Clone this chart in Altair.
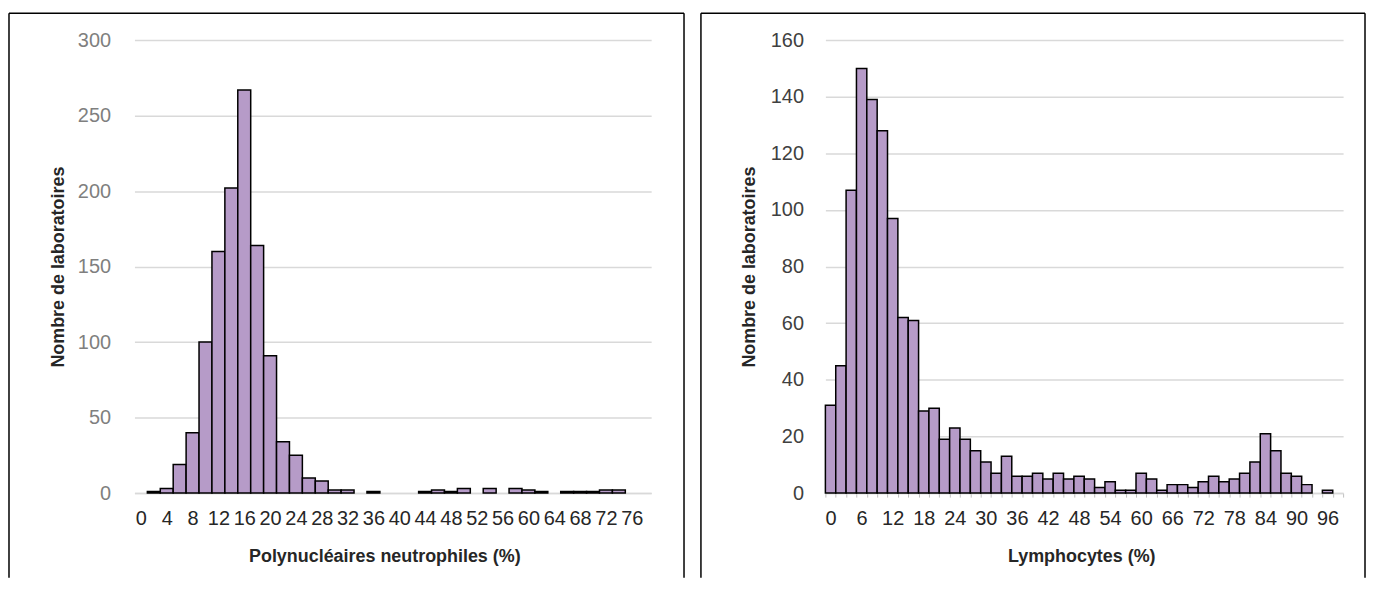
import altair as alt
import pandas as pd

# ---- data ----
neut_bins = list(range(0, 80, 2))
neut_counts = [0, 1, 3, 19, 40, 100, 160, 202, 267, 164,
               91, 34, 25, 10, 8, 2, 2, 0, 1, 0,
               0, 0, 1, 2, 1, 3, 0, 3, 0, 3,
               2, 1, 0, 1, 1, 1, 2, 2, 0, 0]
lymph_bins = list(range(0, 100, 2))
lymph_counts = [31, 45, 107, 150, 139, 128, 97, 62, 61, 29,
                30, 19, 23, 19, 15, 11, 7, 13, 6, 6,
                7, 5, 7, 5, 6, 5, 2, 4, 1, 1,
                7, 5, 1, 3, 3, 2, 4, 6, 4, 5,
                7, 11, 21, 15, 7, 6, 3, 0, 1, 0]
y_title = "Nombre de laboratoires"
x_title_left = "Polynucléaires neutrophiles (%)"
x_title_right = "Lymphocytes (%)"
left_y_ticks = [0, 50, 100, 150, 200, 250, 300]
right_y_ticks = [0, 20, 40, 60, 80, 100, 120, 140, 160]

FONT = "Liberation Sans"
FILL = "#b69bc8"
GRID = "#d9d9d9"
H = 455


def panel(bins, counts, width, yticks, label_every, ylabel_color, ylabel_pad,
          xticks, xlabel_pad, xtitle, xtitle_x, frame):
    df = pd.DataFrame({"bin": bins, "count": counts})
    x = alt.X(
        "bin:O",
        scale=alt.Scale(domain=bins, paddingInner=0, paddingOuter=0),
        axis=alt.Axis(
            title=xtitle,
            labelExpr=f"datum.value % {label_every} == 0 ? datum.label : ''",
            labelAngle=0, labelOverlap=False,
            labelFont=FONT, labelFontSize=20, labelColor="#262626",
            labelPadding=xlabel_pad,
            ticks=xticks, tickBand="extent", tickSize=4, tickColor="#bfbfbf",
            domainColor=GRID, domainWidth=1.5,
            titleFont=FONT, titleFontSize=18, titleFontWeight="bold",
            titleColor="#262626", titleX=xtitle_x, titleY=64,
            titleAlign="center", titleBaseline="middle",
        ),
    )
    y = alt.Y(
        "count:Q",
        scale=alt.Scale(domain=[yticks[0], yticks[-1]], nice=False),
        axis=alt.Axis(
            values=yticks, title=y_title, grid=True, gridColor=GRID,
            gridWidth=1.5, domain=False, ticks=False,
            labelFont=FONT, labelFontSize=20, labelColor=ylabel_color,
            labelPadding=ylabel_pad,
            titleFont=FONT, titleFontSize=18, titleFontWeight="bold",
            titleColor="#262626", titleAngle=270, titleX=-76, titleY=H / 2,
            titleAlign="center", titleBaseline="middle",
        ),
    )
    bars = (
        alt.Chart(df)
        .transform_filter("datum.count > 0")
        .mark_bar(fill=FILL, stroke="black", strokeWidth=1.5)
        .encode(x=x, y=y)
    )
    fl, fr, ft, fb = frame
    one = pd.DataFrame({"k": [0]})
    left_line = alt.Chart(one).mark_rule(color="black", strokeWidth=1.5).encode(
        x=alt.value(fl), y=alt.value(ft), y2=alt.value(fb))
    right_line = alt.Chart(one).mark_rule(color="black", strokeWidth=1.5).encode(
        x=alt.value(fr), y=alt.value(ft), y2=alt.value(fb))
    top_line = alt.Chart(one).mark_rule(color="black", strokeWidth=1.5).encode(
        x=alt.value(fl), x2=alt.value(fr), y=alt.value(ft))
    return alt.layer(bars, left_line, right_line, top_line).properties(
        width=width, height=H)


left = panel(neut_bins, neut_counts, 519, left_y_ticks, 4, "#7f7f7f", 24,
             False, 16, x_title_left, 251, (-126, 552, -27, 540))
right = panel(lymph_bins, lymph_counts, 520, right_y_ticks, 6, "#404040", 22,
              True, 12, x_title_right, 257, (-125, 542, -27, 540))

chart = (
    alt.hconcat(left, right, spacing=15)
    .properties(padding={"left": 0, "top": 3, "right": 0, "bottom": 0},
                background="white")
    .configure_view(stroke=None)
)

chart.save("out.html", embed_options={"renderer": "svg", "actions": False})
